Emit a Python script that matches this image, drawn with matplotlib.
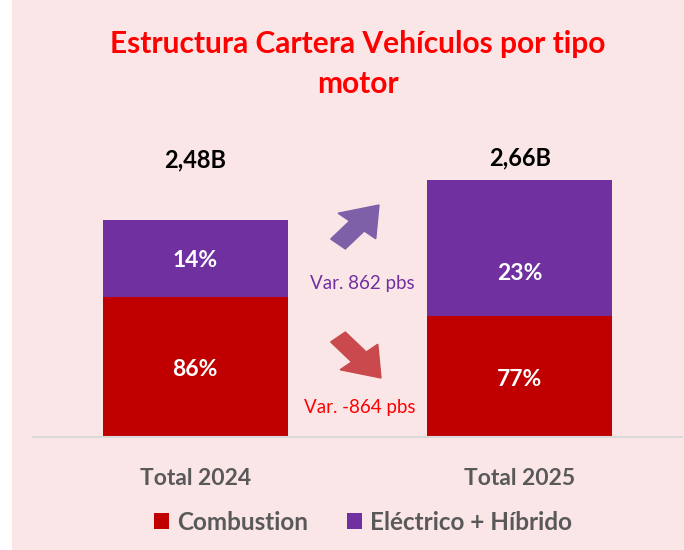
import matplotlib
matplotlib.use("Agg")
import matplotlib.pyplot as plt
from matplotlib.patches import Rectangle, FancyArrow
import numpy as np

categories = ["Total 2024", "Total 2025"]
totals = [2.48, 2.66]                 # billions
total_labels = ["2,48B", "2,66B"]
share_combustion = [0.86, 0.77]
share_electric = [0.14, 0.23]
series_names = ["Combustion", "Eléctrico + Híbrido"]
var_labels = ["Var. 862 pbs", "Var. -864 pbs"]

combustion = [t * s for t, s in zip(totals, share_combustion)]
electric = [t * s for t, s in zip(totals, share_electric)]

C_COMB = "#C00000"
C_ELEC = "#7030A0"
BG = "#FBE6E7"
GRAY = "#595959"
FONT = ["Lato", "DejaVu Sans"]

W, H = 684, 550
fig = plt.figure(figsize=(W / 100, H / 100), dpi=100)
fig.patch.set_facecolor("white")
fig.patches.append(Rectangle((12 / W, 0), 1 - 12 / W, 1, transform=fig.transFigure,
                             facecolor=BG, edgecolor="none", zorder=-10))

ymin = 1.5
scale = 221.5  # px per B
ax_bottom_px, ax_top_px = 437, 120
ymax = ymin + (ax_bottom_px - ax_top_px) / scale
ax = fig.add_axes([33 / W, 1 - ax_bottom_px / H, (682 - 33) / W, (ax_bottom_px - ax_top_px) / H])
ax.set_facecolor("none")
ax.set_xlim(-0.5, 1.5)
ax.set_ylim(ymin, ymax)
for s in ["top", "right", "left"]:
    ax.spines[s].set_visible(False)
ax.spines["bottom"].set_color("#D9D9D9")
ax.spines["bottom"].set_linewidth(1.5)
ax.set_yticks([])
x = np.arange(len(categories))
ax.set_xticks(x)
ax.set_xticklabels(categories, fontsize=16.5, fontweight="bold", color=GRAY, family=FONT)
ax.tick_params(axis="x", length=0, pad=22)

bw = 0.57
b1 = ax.bar(x, [c - ymin for c in combustion], bottom=ymin, width=bw, color=C_COMB, label=series_names[0])
b2 = ax.bar(x, electric, bottom=combustion, width=bw, color=C_ELEC, label=series_names[1])

# label vertical position within each purple segment (fraction from bottom)
elec_label_frac = [0.47, 0.31]
comb_label_frac = [0.48, 0.47]
for i in range(len(x)):
    cy = ymin + (combustion[i] - ymin) * comb_label_frac[i]
    ax.text(x[i], cy, f"{share_combustion[i]*100:.0f}%", ha="center", va="center",
            color="white", fontsize=16.5, fontweight="bold", family=FONT)
    ey = combustion[i] + electric[i] * elec_label_frac[i]
    ax.text(x[i], ey, f"{share_electric[i]*100:.0f}%", ha="center", va="center",
            color="white", fontsize=16.5, fontweight="bold", family=FONT)

# total labels
total_label_px = [160, 158]
for i in range(len(x)):
    ax.text(x[i], ymin + (ax_bottom_px - total_label_px[i]) / scale, total_labels[i],
            ha="center", va="center", color="black", fontsize=17, fontweight="bold", family=FONT)

# arrows and variation texts (figure coords in px)
def fx(px):
    return px / W

def fy(py):
    return 1 - py / H

fig.patches.append(FancyArrow(fx(338), fy(244), fx(379) - fx(338), fy(205) - fy(244),
                              width=0.028, head_width=0.072, head_length=0.05,
                              length_includes_head=True, transform=fig.transFigure,
                              color="#7D60A8", zorder=5))
fig.patches.append(FancyArrow(fx(338), fy(337), fx(381) - fx(338), fy(378) - fy(337),
                              width=0.028, head_width=0.072, head_length=0.05,
                              length_includes_head=True, transform=fig.transFigure,
                              color="#C9494C", zorder=5))
fig.text(fx(362), fy(283), var_labels[0], ha="center", va="center", color=C_ELEC,
         fontsize=13.5, family=FONT)
fig.text(fx(360), fy(408), var_labels[1], ha="center", va="center", color="#FF0000",
         fontsize=13.5, family=FONT)

# title
fig.text(fx(358), fy(64), "Estructura Cartera Vehículos por tipo\nmotor", ha="center", va="center",
         color="#FF0000", fontsize=21.5, fontweight="bold", family=FONT, linespacing=1.5)

# legend
leg = fig.legend(handles=[b1, b2], labels=series_names, loc="center", bbox_to_anchor=(fx(363), fy(522)),
                 ncol=2, frameon=False, handlelength=0.6, handleheight=0.6, handletextpad=0.35,
                 columnspacing=1.6, prop={"family": FONT, "size": 17.5, "weight": "bold"})
for t in leg.get_texts():
    t.set_color(GRAY)

fig.savefig("out.png", dpi=100, facecolor=fig.get_facecolor())
